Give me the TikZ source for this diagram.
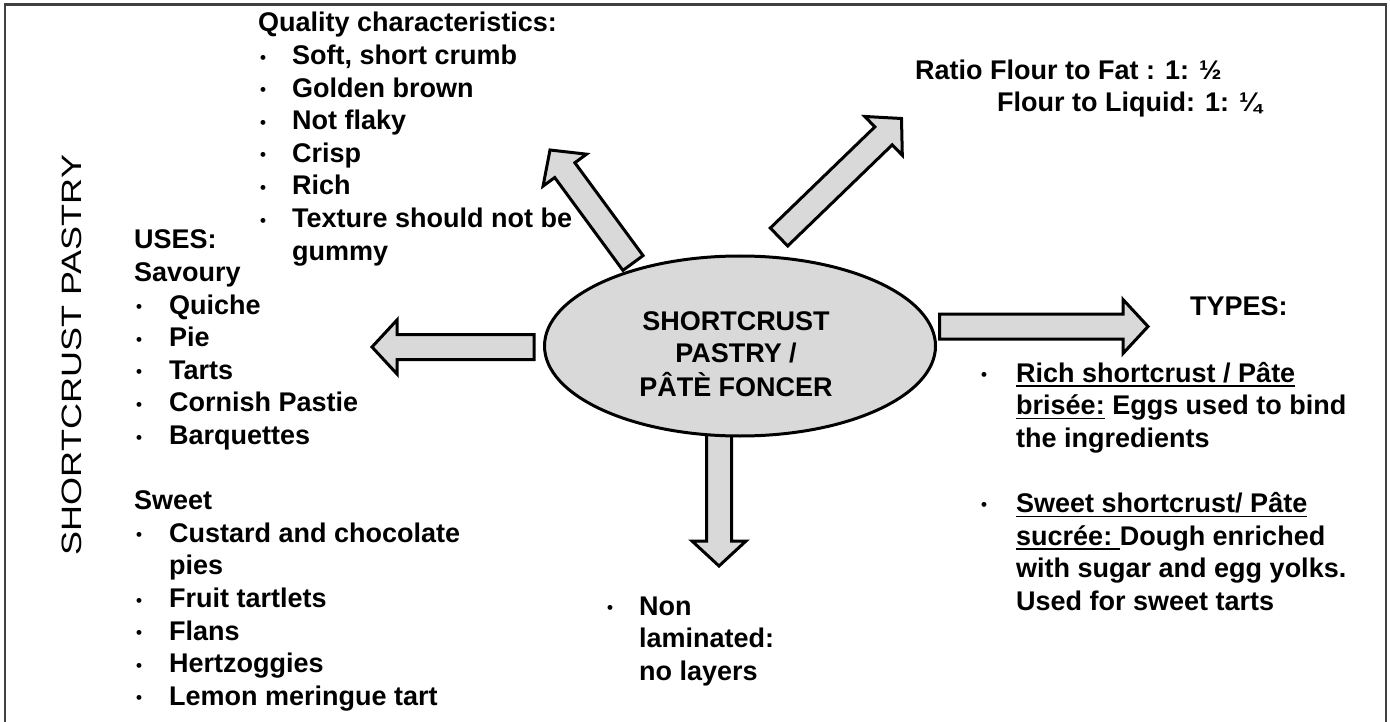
\documentclass[tikz,border=0pt]{standalone}
\usepackage{fontspec}
\setmainfont{Liberation Sans}
\usepackage{graphicx}
\usetikzlibrary{calc,shapes.geometric}
\definecolor{fillgray}{HTML}{D9D9D9}
\definecolor{framegray}{HTML}{404040}
\newcommand\bodyfont{\fontsize{27}{32.6}\selectfont\bfseries}
\newcommand\bul[2]{\makebox[#2][l]{\hspace*{#1}{\fontsize{17}{17}\selectfont\raisebox{1.5pt}{•}}}}
\newsavebox\undlbox
\newcommand\undl[1]{\sbox\undlbox{#1}\rlap{\rule[-4.8pt]{\wd\undlbox}{1.6pt}}\usebox\undlbox}
\tikzset{
  blockarrow/.style={draw=black, fill=fillgray, line width=3pt, line join=miter},
  txt/.style={inner sep=0pt, anchor=base west, font=\bodyfont},
}
\newcommand\blockarrow[2]{%
  \coordinate (#1-b) at ($(#2)!25pt!(#1)$);
  \draw[blockarrow] ($(#1)!12.5pt!90:(#2)$) -- ($(#1-b)!12.5pt!90:(#2)$) -- ($(#1-b)!27pt!90:(#2)$) -- (#2)
    -- ($(#1-b)!27pt!-90:(#2)$) -- ($(#1-b)!12.5pt!-90:(#2)$) -- ($(#1)!12.5pt!-90:(#2)$) -- cycle;}
\begin{document}
\begin{tikzpicture}[x=1pt,y=-1pt]
\useasboundingbox (0,0) rectangle (1390,722);
% frame
\draw[framegray, line width=2.5pt] (5,730) -- (5,4.5) -- (1386,4.5) -- (1386,730);
% arrow end points
\coordinate (lt) at (534,347);   \coordinate (lh) at (372,347);
\coordinate (rt) at (939.5,326.5); \coordinate (rh) at (1148,326.5);
\coordinate (dt) at (719,425);   \coordinate (dh) at (719,566);
\coordinate (ult) at (633,263);  \coordinate (ulh) at (550,150);
\coordinate (urt) at (779,237);  \coordinate (urh) at (901.5,118.5);
\blockarrow{lt}{lh}
\blockarrow{rt}{rh}
\blockarrow{dt}{dh}
\blockarrow{ult}{ulh}
\blockarrow{urt}{urh}
% central ellipse
\node[ellipse, draw=black, fill=fillgray, line width=3pt, minimum width=391pt, minimum height=180pt, inner sep=0pt] (core) at (740,346) {};
\node[inner sep=0pt, anchor=base, font=\bodyfont] (coretxt) at (736,330)
  {\begin{tabular}[t]{@{}c@{}}SHORTCRUST\\ PASTRY /\\ PÂTÈ FONCER\end{tabular}};
% vertical title
\node[inner sep=0pt, rotate=90, font=\fontsize{28}{28}\selectfont] (title) at (72,355)
  {\scalebox{1.286}[1]{SHORTCRUST PASTRY}};
% quality characteristics
\node[txt] (qual) at (258,32) {\begin{tabular}[t]{@{}l@{}l@{}}
\multicolumn{2}{@{}l@{}}{Quality characteristics:}\\
\bul{2pt}{34pt} & Soft, short crumb\\
\bul{2pt}{34pt} & Golden brown\\
\bul{2pt}{34pt} & Not flaky\\
\bul{2pt}{34pt} & Crisp\\
\bul{2pt}{34pt} & Rich\\
\bul{2pt}{34pt} & Texture should not be\\
 & gummy
\end{tabular}};
% uses
\node[txt] (uses) at (134,249) {\begin{tabular}[t]{@{}l@{}l@{}}
\multicolumn{2}{@{}l@{}}{USES:}\\
\multicolumn{2}{@{}l@{}}{Savoury}\\
\bul{2pt}{35pt} & Quiche\\
\bul{2pt}{35pt} & Pie\\
\bul{2pt}{35pt} & Tarts\\
\bul{2pt}{35pt} & Cornish Pastie\\
\bul{2pt}{35pt} & Barquettes\\
 & \\
\multicolumn{2}{@{}l@{}}{Sweet}\\
\bul{2pt}{35pt} & Custard and chocolate\\
 & pies\\
\bul{2pt}{35pt} & Fruit tartlets\\
\bul{2pt}{35pt} & Flans\\
\bul{2pt}{35pt} & Hertzoggies\\
\bul{2pt}{35pt} & Lemon meringue tart
\end{tabular}};
% ratio
\node[txt] (ratio1) at (915,80) {Ratio Flour to Fat : 1: ½};
\node[txt] (ratio2) at (997,112) {Flour to Liquid: 1: ¼};
% types
\node[txt] (types) at (1190,316) {TYPES:};
\node[txt] (typelist) at (981,382) {\begin{tabular}[t]{@{}l@{}l@{}}
\bul{0pt}{35pt} & \undl{Rich shortcrust / Pâte}\\
 & \undl{brisée:} Eggs used to bind\\
 & the ingredients\\
 & \\
\bul{0pt}{35pt} & \undl{Sweet shortcrust/ Pâte}\\
 & \undl{sucrée:\ }Dough enriched\\
 & with sugar and egg yolks.\\
 & Used for sweet tarts
\end{tabular}};
% non laminated
\node[txt] (nonlam) at (607,615) {\begin{tabular}[t]{@{}l@{}l@{}}
\bul{0pt}{32pt} & Non\\
 & laminated:\\
 & no layers
\end{tabular}};
\end{tikzpicture}
\end{document}
